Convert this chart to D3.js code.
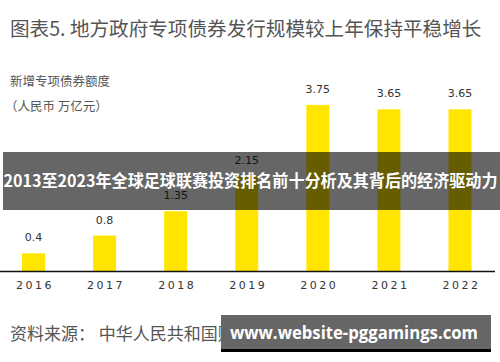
<!DOCTYPE html>
<html><head><meta charset="utf-8">
<script src="https://cdn.jsdelivr.net/npm/d3@7"></script>
<style>body{margin:0;background:#fff}svg{display:block}</style>
</head><body>
<script>
const years = ["2016","2017","2018","2019","2020","2021","2022"];
const values = [0.4, 0.8, 1.35, 2.15, 3.75, 3.65, 3.65];
const valueLabels = ["0.4","0.8","1.35","2.15","3.75","3.65","3.65"];
const title = "图表5. 地方政府专项债券发行规模较上年保持平稳增长";
const subtitle1 = "新增专项债券额度";
const subtitle2 = "（人民币 万亿元）";
const source = "资料来源：  中华人民共和国财政部";
const banner = "2013至2023年全球足球联赛投资排名前十分析及其背后的经济驱动力";
const watermark = "www.website-pggamings.com";

const W = 500, H = 362;
const font = "'DejaVu Sans','Noto Sans CJK SC',sans-serif";
const cjk = "'Noto Sans CJK SC','DejaVu Sans',sans-serif";
const svg = d3.select("body").append("svg").attr("width", W).attr("height", H);

const x = d3.scalePoint().domain(years).range([33.5, 460]);
const y = d3.scaleLinear().domain([0, 4]).range([271, 271 - 4 * 44.3]);
const bw = 23;

svg.append("text").attr("x", 10).attr("y", 36).attr("font-family", cjk)
  .attr("font-size", 19.6).attr("fill", "#555").text(title);
svg.append("text").attr("x", 10).attr("y", 86).attr("font-family", cjk)
  .attr("font-size", 12.5).attr("fill", "#555").text(subtitle1);
svg.append("text").attr("x", 5).attr("y", 111).attr("font-family", cjk)
  .attr("font-size", 12.5).attr("fill", "#555").text(subtitle2);

svg.append("g").selectAll("rect").data(values).join("rect")
  .attr("x", (d, i) => x(years[i]) - bw / 2)
  .attr("y", d => y(d))
  .attr("width", bw)
  .attr("height", d => y(0) - y(d))
  .attr("fill", "#FFE500");

svg.append("g").selectAll("text").data(values).join("text")
  .attr("x", (d, i) => x(years[i]))
  .attr("y", d => y(d) - 12)
  .attr("text-anchor", "middle")
  .attr("font-family", font).attr("font-size", 11).attr("fill", "#333")
  .text((d, i) => valueLabels[i]);

const axis = d3.axisBottom(x).tickSize(0).tickPadding(10);
const ax = svg.append("g").attr("transform", `translate(0,${y(0)})`).call(axis);
ax.select(".domain").attr("d", `M0,0.5H495`).attr("stroke", "#111").attr("stroke-width", 1.5);
ax.selectAll("text").attr("font-family", font).attr("font-size", 11)
  .attr("fill", "#333").attr("letter-spacing", "2.5px").attr("dx", "1px");

svg.append("text").attr("x", 10).attr("y", 340).attr("font-family", cjk)
  .attr("font-size", 17).attr("fill", "#555").text(source);

// overlay banner
svg.append("rect").attr("x", 3).attr("y", 152).attr("width", 497).attr("height", 58)
  .attr("fill", "#000").attr("fill-opacity", 0.6);
svg.append("text").attr("x", 250.5).attr("y", 187).attr("text-anchor", "middle")
  .attr("font-family", cjk).attr("font-weight", "bold").attr("font-size", 16.5)
  .attr("fill", "#fff").attr("textLength", 494).attr("lengthAdjust", "spacingAndGlyphs").text(banner);

// watermark
svg.append("rect").attr("x", 221).attr("y", 315).attr("width", 270).attr("height", 37)
  .attr("fill", "#666");
svg.append("rect").attr("x", 221).attr("y", 349).attr("width", 270).attr("height", 3)
  .attr("fill", "#000");
svg.append("text").attr("x", 230).attr("y", 339)
  .attr("font-family", "'Open Sans','DejaVu Sans',sans-serif").attr("font-weight", "bold").attr("font-size", 17)
  .attr("fill", "#fff").attr("textLength", 248).attr("lengthAdjust", "spacingAndGlyphs").text(watermark);
</script>
</body></html>
